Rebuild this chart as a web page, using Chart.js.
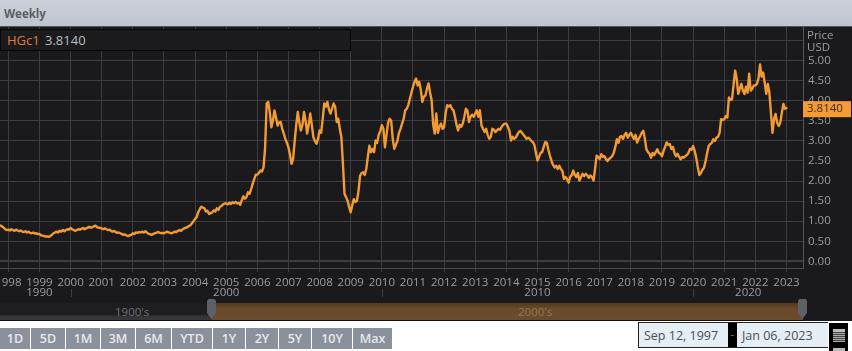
<!DOCTYPE html>
<html>
<head>
<meta charset="utf-8">
<title>HGc1 Weekly</title>
<script src="https://cdn.jsdelivr.net/npm/chart.js@4"></script>
<style>
  html, body { margin: 0; padding: 0; background: #fff; overflow: hidden; }
  body { width: 852px; height: 351px; position: relative; font-family: "Open Sans", sans-serif; }
  #header { position: absolute; left: 0; top: 0; width: 852px; height: 27px; background: linear-gradient(#ccd1d9, #bfc5ce); border-bottom: 1px solid #555; box-sizing: border-box; }
  #header span { position: absolute; left: 4px; top: 6px; font-size: 11.5px; font-weight: 700; color: #5c5f63; }
  #chartWrap { position: absolute; left: 0; top: 27px; width: 852px; height: 275px; background: #1a1a1c; border-top: 0; }
  #legend { position: absolute; left: 0; top: 29px; width: 349px; height: 20px; background: #1b1b1d; border: 1px solid #050505; font-size: 13px; line-height: 20px; }
  #legend .ric { position: absolute; left: 6px; color: #e2793a; }
  #legend .val { position: absolute; left: 44px; color: #b9bcc0; }
  #priceTitle { position: absolute; left: 807px; top: 29px; font-size: 11.5px; line-height: 12px; color: #9a9c9f; }
  #nav { position: absolute; left: 0; top: 302px; width: 852px; height: 19px; background: #1a1a1c; }
  #navOld { position: absolute; left: 0; top: 1px; width: 212px; height: 18px; background: linear-gradient(#1e1e20 65%, #343436 80%, #38383a); border-bottom: 1px solid #111; box-sizing: border-box; }
  #navNew { position: absolute; left: 212px; top: 1px; width: 591px; height: 18px; background: linear-gradient(#54391f 0, #6a4a2a 35%, #6c4c2c); border-bottom: 1px solid #111; box-sizing: border-box; }
  .navText { position: absolute; top: 2px; font-size: 11.5px; line-height: 15px; }
  .handle { position: absolute; top: -3px; width: 9px; height: 20px; background: #5c6068; clip-path: polygon(15% 0, 85% 0, 100% 10%, 100% 70%, 50% 100%, 0 70%, 0 10%); }
  #ranges { position: absolute; left: 0; top: 328px; height: 21px; display: flex; }
  #ranges div { background: #8a919c; color: #e6e9ec; font-size: 12.5px; font-weight: 600; line-height: 21px; text-align: center; border-right: 1px solid #fff; box-sizing: border-box; }
  #dates { position: absolute; left: 638px; top: 322px; width: 190px; height: 26px; border: 1px solid #222; border-right: 0; box-sizing: border-box; background: #000; }
  #dates .box { position: absolute; top: 0; height: 24px; background: #e5edf5; color: #4b4f55; font-size: 12.5px; line-height: 25px; box-sizing: border-box; }
  #dash { position: absolute; left: 89px; top: 0; width: 9px; text-align: center; color: #777; font-size: 12px; line-height: 24px; }
  #calBox { position: absolute; left: 828px; top: 322px; width: 21px; height: 29px; background: #000; border: 1px solid #fff; border-bottom: 0; box-sizing: border-box; overflow: hidden; }
  .calIcon { position: absolute; left: 4px; width: 12px; height: 13px; border-top: 3px solid #bbb; box-sizing: border-box; background: repeating-linear-gradient(0deg, #aaa 0 1px, #444 1px 2px); }
</style>
</head>
<body>
<div id="header"><span>Weekly</span></div>
<div id="chartWrap"><canvas id="priceChart" width="852" height="275"></canvas></div>
<div id="legend"><span class="ric">HGc1</span><span class="val">3.8140</span></div>
<div id="priceTitle">Price<br>USD</div>
<div id="nav">
  <div id="navOld"></div>
  <div id="navNew"></div>
  <span class="navText" style="left:115px;color:#6f6f70">1900's</span>
  <span class="navText" style="left:518px;color:#8f7554">2000's</span>
  <div class="handle" style="left:207px"></div>
  <div class="handle" style="left:798px"></div>
</div>
<div id="ranges"></div>
<div id="dates">
  <div class="box" style="left:0;width:89px;padding-left:5px">Sep 12, 1997</div>
  <div id="dash">-</div>
  <div class="box" style="left:98px;width:91px;padding-left:5px">Jan 06, 2023</div>
</div>
<div id="calBox">
  <div class="calIcon" style="top:6px"></div>
  <div class="calIcon" style="top:25px"></div>
</div>
<script>
// prices, 20 samples a year
const p1997 = [.89,.87,.84,.80,.78];
const p1998 = [.79,.77,.80,.78,.76,.79,.77,.75,.77,.74,.73,.75,.72,.74,.71,.70,.72,.69,.70,.68];
const p1999 = [.68,.65,.64,.63,.62,.62,.61,.63,.66,.70,.72,.74,.72,.76,.74,.78,.75,.78,.80,.79];
const p2000 = [.83,.80,.78,.76,.78,.80,.79,.81,.83,.80,.82,.84,.86,.84,.85,.87,.89,.85,.84,.83];
const p2001 = [.82,.80,.82,.80,.78,.79,.76,.74,.76,.73,.71,.72,.70,.68,.66,.67,.64,.63,.65,.66];
const p2002 = [.70,.68,.72,.71,.73,.72,.74,.72,.75,.72,.69,.68,.66,.68,.70,.71,.73,.72,.70,.71];
const p2003 = [.70,.72,.74,.72,.71,.70,.72,.74,.73,.76,.78,.76,.80,.82,.84,.85,.88,.90,.95,1.00];
const p2004 = [1.06,1.10,1.22,1.30,1.36,1.34,1.32,1.24,1.26,1.18,1.20,1.22,1.27,1.24,1.32,1.28,1.36,1.38,1.42,1.44];
const p2005 = [1.44,1.42,1.46,1.43,1.47,1.45,1.48,1.44,1.46,1.41,1.52,1.62,1.56,1.60,1.72,1.68,1.80,1.93,2.05,2.16];
const p2006 = [2.16,2.20,2.26,2.24,2.34,2.84,3.93,3.97,3.72,3.34,3.50,3.76,3.58,3.38,3.46,3.47,3.30,3.18,3.05,2.95];
const p2007 = [2.84,2.65,2.43,2.55,3.00,3.40,3.72,3.45,3.26,3.40,3.72,3.50,3.18,3.40,3.68,3.40,3.09,3.00,2.93,3.05];
const p2008 = [3.26,3.20,3.55,3.93,3.85,3.97,3.78,3.68,3.80,3.93,3.85,3.47,3.55,3.30,3.09,2.43,1.68,1.60,1.51,1.35];
const p2009 = [1.22,1.40,1.55,1.48,1.51,1.75,2.13,2.20,2.22,2.15,2.30,2.60,2.88,2.72,2.80,2.72,3.01,2.95,3.15,3.25];
const p2010 = [3.39,3.30,2.84,3.15,3.45,3.55,3.50,3.05,2.80,2.90,3.00,3.20,3.30,3.43,3.55,3.76,3.80,3.89,4.05,4.20];
const p2011 = [4.34,4.47,4.55,4.38,4.47,4.28,3.97,4.10,4.13,4.30,4.43,4.20,4.01,3.40,3.18,3.68,3.20,3.35,3.43,3.30];
const p2012 = [3.34,3.70,3.89,3.85,3.89,3.80,3.76,3.60,3.40,3.26,3.40,3.35,3.43,3.60,3.80,3.75,3.47,3.60,3.65,3.60];
const p2013 = [3.68,3.76,3.60,3.76,3.39,3.30,3.22,3.30,3.15,3.05,3.10,3.30,3.28,3.22,3.26,3.30,3.28,3.35,3.40,3.43];
const p2014 = [3.43,3.35,3.25,3.01,3.10,3.05,3.08,3.15,3.22,3.25,3.20,3.15,3.10,3.05,3.08,3.05,3.00,2.97,2.90,2.70];
const p2015 = [2.51,2.60,2.70,2.72,2.85,2.97,2.95,2.78,2.63,2.50,2.40,2.34,2.38,2.30,2.38,2.30,2.25,2.05,2.10,2.05];
const p2016 = [1.96,2.10,2.15,2.26,2.15,2.10,2.20,2.01,2.10,2.18,2.12,2.18,2.14,2.08,2.14,2.10,2.01,2.30,2.63,2.60];
const p2017 = [2.55,2.67,2.60,2.62,2.55,2.50,2.55,2.58,2.62,2.70,2.85,3.04,2.95,3.10,3.12,3.05,3.15,3.20,3.08,3.15];
const p2018 = [3.20,3.12,3.05,3.15,2.96,3.05,3.12,3.20,3.25,3.05,2.79,2.72,2.68,2.58,2.70,2.65,2.72,2.79,2.70,2.68];
const p2019 = [2.62,2.75,2.85,2.96,2.90,2.92,2.80,2.85,2.70,2.62,2.68,2.60,2.54,2.60,2.58,2.62,2.65,2.70,2.80,2.78];
const p2020 = [2.87,2.75,2.58,2.35,2.15,2.20,2.28,2.33,2.50,2.70,2.87,2.92,2.95,3.04,3.00,3.08,3.10,3.20,3.54,3.52];
const p2021 = [3.54,3.62,3.58,4.08,4.02,4.04,4.40,4.75,4.55,4.17,4.30,4.42,4.25,4.17,4.35,4.20,4.67,4.25,4.30,4.38];
const p2022 = [4.38,4.42,4.55,4.90,4.60,4.70,4.45,4.17,4.42,4.20,3.70,3.20,3.55,3.67,3.45,3.37,3.45,3.70,3.92,3.80];
const p2023 = [3.814];

const yearRows = [
    [1998, p1998], [1999, p1999], [2000, p2000], [2001, p2001], [2002, p2002], [2003, p2003],
    [2004, p2004], [2005, p2005], [2006, p2006], [2007, p2007], [2008, p2008], [2009, p2009],
    [2010, p2010], [2011, p2011], [2012, p2012], [2013, p2013], [2014, p2014], [2015, p2015],
    [2016, p2016], [2017, p2017], [2018, p2018], [2019, p2019], [2020, p2020], [2021, p2021],
    [2022, p2022], [2023, p2023]
];

const yearTicks = [1998,1999,2000,2001,2002,2003,2004,2005,2006,2007,2008,2009,2010,2011,2012,2013,2014,2015,2016,2017,2018,2019,2020,2021,2022,2023];
const priceTicks = [0,0.5,1,1.5,2,2.5,3,3.5,4,4.5,5,5.5];
const decadeMarks = [2000, 2010, 2020];
const decadeLabels = [[1999, '1990'], [2005, '2000'], [2015, '2010'], [2021.77, '2020']];
const lastPrice = 3.814;
const rangeNames = ['1D','5D','1M','3M','6M','YTD','1Y','2Y','5Y','10Y','Max'];
const rangeWidths = [31,35,35,35,36,41,33,33,33,41,40];

const points = p1997.map((y, i) => ({ x: 1997.75 + i / 20, y }));
yearRows.forEach(([year, row]) => {
    row.forEach((y, i) => points.push({ x: year + i / 20, y }));
});

const rangesEl = document.getElementById('ranges');
rangeNames.forEach((name, i) => {
    const b = document.createElement('div');
    b.textContent = name;
    b.style.width = rangeWidths[i] + 'px';
    rangesEl.appendChild(b);
});

const textColor = '#9a9c9f';
const gridColor = '#3e3e40';
const axisFont = { family: '"Open Sans", sans-serif', size: 11.5 };

const decadePlugin = {
    id: 'decades',
    afterDraw(chart) {
        const { ctx, scales: { x } } = chart;
        ctx.save();
        ctx.strokeStyle = gridColor;
        decadeMarks.forEach(v => {
            const px = Math.round(x.getPixelForValue(v)) + 0.5;
            ctx.beginPath();
            ctx.moveTo(px, 262);
            ctx.lineTo(px, 270);
            ctx.stroke();
        });
        ctx.fillStyle = textColor;
        ctx.font = '11.5px "Open Sans", sans-serif';
        ctx.textAlign = 'center';
        ctx.textBaseline = 'middle';
        decadeLabels.forEach(([v, label]) => ctx.fillText(label, x.getPixelForValue(v), 266));
        ctx.restore();
    }
};

const priceTagPlugin = {
    id: 'priceTag',
    afterDraw(chart) {
        const { ctx, scales: { y } } = chart;
        const py = y.getPixelForValue(lastPrice) + 1;
        ctx.save();
        ctx.fillStyle = '#f59b35';
        ctx.fillRect(803, py - 8, 48, 16);
        ctx.fillStyle = '#3a2a14';
        ctx.font = '11.5px "Open Sans", sans-serif';
        ctx.textBaseline = 'middle';
        ctx.fillText(lastPrice.toFixed(4), 807, py);
        ctx.restore();
    }
};

new Chart(document.getElementById('priceChart').getContext('2d'), {
    type: 'line',
    data: {
        datasets: [{
            label: 'HGc1',
            data: points,
            borderColor: '#f49a33',
            borderWidth: 2.4,
            borderJoinStyle: 'round',
            borderCapStyle: 'round',
            pointRadius: 0,
            tension: 0,
            fill: false
        }]
    },
    options: {
        responsive: false,
        animation: false,
        parsing: false,
        layout: { padding: 0 },
        plugins: { legend: { display: false }, tooltip: { enabled: false }, title: { display: false } },
        scales: {
            x: {
                type: 'linear',
                min: 1997.733,
                max: 2023.53,
                afterBuildTicks: scale => { scale.ticks = yearTicks.map(value => ({ value })); },
                afterFit: scale => {
                    scale.height = 34;
                    scale.paddingLeft = 0;
                    scale.paddingRight = 0;
                },
                grid: { color: gridColor, tickLength: 4 },
                border: { color: '#4a4a4c' },
                ticks: {
                    autoSkip: false,
                    maxRotation: 0,
                    padding: 4,
                    color: textColor,
                    font: axisFont,
                    callback: v => String(v)
                }
            },
            y: {
                position: 'right',
                min: -0.165,
                max: 5.835,
                afterBuildTicks: scale => { scale.ticks = priceTicks.map(value => ({ value })); },
                afterFit: scale => {
                    scale.width = 49;
                    scale.paddingTop = 0;
                    scale.paddingBottom = 0;
                },
                grid: {
                    color: gridColor,
                    lineWidth: c => (c.tick && c.tick.value === 0 ? 2 : 1),
                    drawTicks: false
                },
                border: { color: '#55555a' },
                ticks: {
                    padding: 5,
                    color: textColor,
                    font: axisFont,
                    callback: v => (v > 5 ? '' : v.toFixed(2))
                }
            }
        }
    },
    plugins: [decadePlugin, priceTagPlugin]
});
</script>
</body>
</html>
